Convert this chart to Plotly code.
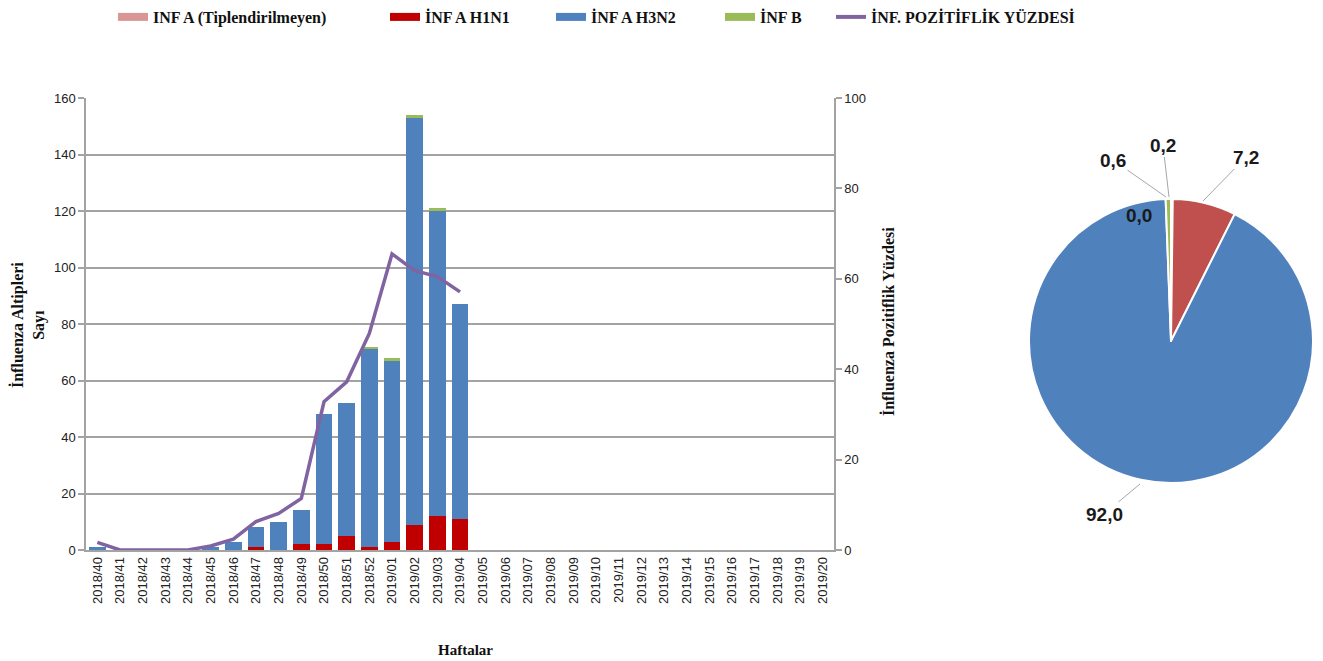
import plotly.graph_objects as go

# Surveillance weeks (2018/40 .. 2019/20)
weeks = [f"2018/{w}" for w in range(40, 53)] + [f"2019/{w:02d}" for w in range(1, 21)]

# Weekly subtype counts, reported weeks 2018/40 .. 2019/04
inf_a_untyped = [0, 0, 0, 0, 0, 0, 0, 0, 0, 0, 0, 0, 0, 0, 0, 0, 0]
inf_a_h1n1 = [0, 0, 0, 0, 0, 0, 0, 1, 0, 2, 2, 5, 1, 3, 9, 12, 11]
inf_a_h3n2 = [1, 0, 0, 0, 0, 1, 3, 7, 10, 12, 46, 47, 70, 64, 144, 108, 76]
inf_b = [0, 0, 0, 0, 0, 0, 0, 0, 0, 0, 0, 0, 1, 1, 1, 1, 0]

# Weekly positivity percentage
positivity = [1.7, 0.0, 0.0, 0.0, 0.0, 0.9, 2.4, 6.3, 8.1, 11.4, 32.8, 37.2, 47.9,
              65.5, 61.8, 60.5, 57.1]

# Cumulative subtype distribution (%)
pie_labels = ["INF A (Tiplendirilmeyen)", "İNF A H1N1", "İNF A H3N2", "İNF B", "Diğer"]
pie_values = [0.2, 7.2, 92.0, 0.6, 0.0]

legend_names = ["INF A (Tiplendirilmeyen)", "İNF A H1N1", "İNF A H3N2", "İNF B",
                "İNF. POZİTİFLİK YÜZDESİ"]

W, H = 1323, 661
MT, MB = 60, 40  # top / bottom margins in px


def px(x):
    return x / W


def py(y):
    return (H - MB - y) / (H - MT - MB)


C_PINK = "#D99694"
C_RED = "#C00000"
C_BLUE = "#4F81BD"
C_GREEN = "#9BBB59"
C_PURPLE = "#8064A2"
GRID = "#a3a3a3"

reported = weeks[:len(inf_a_h3n2)]

fig = go.Figure()

bar_series = [(inf_a_untyped, C_PINK), (inf_a_h1n1, C_RED), (inf_a_h3n2, C_BLUE), (inf_b, C_GREEN)]
for vals, col in bar_series:
    fig.add_trace(go.Bar(x=reported, y=vals, marker=dict(color=col, line=dict(width=0)),
                         showlegend=False, xaxis="x", yaxis="y"))

fig.add_trace(go.Scatter(x=reported, y=positivity, mode="lines",
                         line=dict(color=C_PURPLE, width=3.5),
                         showlegend=False, xaxis="x", yaxis="y2"))

# Legend entries, each in its own legend box along the top
legend_x = [113, 385, 551, 720, 831]
legend_cols = [C_PINK, C_RED, C_BLUE, C_GREEN, C_PURPLE]
for i, (name, col) in enumerate(zip(legend_names, legend_cols)):
    lg = "legend" if i == 0 else f"legend{i + 1}"
    fig.add_trace(go.Scatter(x=[None], y=[None], mode="lines", name=name,
                             line=dict(color=col, width=8 if i < 4 else 4),
                             legend=lg, showlegend=True, xaxis="x", yaxis="y"))

fig.add_trace(go.Pie(labels=pie_labels, values=pie_values, sort=False,
                     direction="clockwise", rotation=0,
                     marker=dict(colors=[C_PINK, "#C0504D", C_BLUE, C_GREEN, C_PURPLE],
                                 line=dict(color="white", width=2)),
                     textinfo="none", hoverinfo="label+percent", showlegend=False,
                     domain=dict(x=[px(1171 - 142), px(1171 + 142)],
                                 y=[py(341 + 143), py(341 - 143)])))

legend_font = dict(family="Liberation Serif", size=16, color="#111", weight="bold")
layout_legends = {}
for i, xx in enumerate(legend_x):
    key = "legend" if i == 0 else f"legend{i + 1}"
    layout_legends[key] = dict(x=px(xx), y=py(17), xanchor="left", yanchor="middle",
                               orientation="h", font=legend_font,
                               bgcolor="rgba(0,0,0,0)", borderwidth=0)

tick_font = dict(family="Liberation Sans", size=13, color="#222")
title_font = dict(family="Liberation Serif", size=16, color="#111")

annotations = [
    dict(text="<b>İnfluenza Altipleri<br>Sayı</b>", x=px(28), y=py(325), xref="paper", yref="paper",
         xanchor="center", yanchor="middle", textangle=-90, showarrow=False, font=title_font),
    dict(text="<b>İnfluenza Pozitiflik Yüzdesi</b>", x=px(888), y=py(322), xref="paper", yref="paper",
         xanchor="center", yanchor="middle", textangle=-90, showarrow=False, font=title_font),
    dict(text="<b>Haftalar</b>", x=px(465), y=py(650), xref="paper", yref="paper",
         xanchor="center", yanchor="middle", showarrow=False,
         font=dict(family="Liberation Serif", size=15, color="#111")),
]

# Pie value labels with leader lines: (tip x, tip y, text offset x, text offset y, arrow)
pie_label_pos = [
    (1169, 197, -6, -52, True),
    (1203, 201, 43, -44, True),
    (1140, 484, -36, 30, True),
    (1166, 197, -53, -37, True),
    (1154, 203, 0, 0, False),
]
for v, (tx, ty, ax, ay, arrow) in zip(pie_values, pie_label_pos):
    annotations.append(dict(
        text=f"<b>{v:.1f}</b>".replace(".", ","), x=px(tx), y=py(ty), xref="paper", yref="paper",
        ax=ax, ay=ay, showarrow=arrow, arrowhead=0, arrowwidth=1, arrowcolor="#a6a6a6",
        standoff=0, font=dict(family="Liberation Sans", size=19, color="#1a1a1a")))

fig.update_layout(
    width=W, height=H,
    margin=dict(l=0, r=0, t=MT, b=MB, autoexpand=False),
    paper_bgcolor="white", plot_bgcolor="white",
    barmode="stack", bargap=0.26,
    xaxis=dict(domain=[px(86), px(834)], type="category", categoryorder="array",
               categoryarray=weeks, range=[-0.5, len(weeks) - 0.5], automargin=False,
               tickangle=-90, tickfont=tick_font, showline=True, linecolor=GRID, linewidth=1.5,
               showgrid=False, ticks="", fixedrange=True),
    yaxis=dict(domain=[py(550), py(98)], range=[0, 160], dtick=20, tickfont=tick_font,
               automargin=False,
               showgrid=True, gridcolor=GRID, gridwidth=1.5, zeroline=False,
               showline=True, linecolor=GRID, linewidth=1.5, ticks="outside", ticklen=6,
               tickcolor=GRID, tickwidth=1.5),
    yaxis2=dict(overlaying="y", side="right", anchor="x", range=[0, 100], dtick=20,
                automargin=False,
                tickfont=tick_font, showgrid=False, zeroline=False, showline=True,
                linecolor=GRID, linewidth=1.5, ticks="outside", ticklen=6, tickcolor=GRID,
                tickwidth=1.5),
    annotations=annotations,
    **layout_legends,
)

fig.write_html("out.html")
